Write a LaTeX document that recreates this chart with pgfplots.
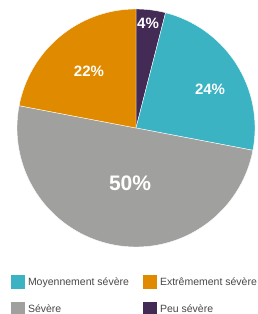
\documentclass[border=0pt]{standalone}
\usepackage{pgfplots}
\pgfplotsset{compat=1.18}
\usepackage{fontspec}
\setmainfont{Liberation Sans}
\definecolor{cteal}{RGB}{59,179,195}
\definecolor{corange}{RGB}{224,138,0}
\definecolor{cgray}{RGB}{160,160,158}
\definecolor{cpurple}{RGB}{67,43,85}
\begin{document}
\begin{tikzpicture}
\begin{axis}[
  name=pie,
  scale only axis, width=238pt, height=238pt,
  xmin=-1, xmax=1, ymin=-1, ymax=1,
  hide axis, clip=false,
  legend columns=2,
  legend cell align=left,
  legend image code/.code={\fill[#1, draw=none] (0pt,-7pt) rectangle (14pt,7pt);},
  legend style={draw=none, fill=none, at={(axis description cs:0,0)}, anchor=north west,
    xshift=-6pt, yshift=-28pt, inner sep=0pt, outer sep=0pt,
    column sep=3pt, row sep=13pt,
    nodes={inner sep=0pt, outer sep=0pt},
    font=\fontsize{10.5}{12}\selectfont, text=black!72},
]
% slices (percentages: 4, 24, 50, 22; clockwise from top, 3.6 degrees per %)
\addplot[fill=cpurple, draw=white, line width=0.4pt, domain=75.6:90, samples=20, variable=\t, forget plot]
  ({cos(\t)},{sin(\t)}) -- (axis cs:0,0) -- cycle;
\addplot[fill=cteal, draw=white, line width=0.4pt, domain=-10.8:75.6, samples=60, variable=\t, forget plot]
  ({cos(\t)},{sin(\t)}) -- (axis cs:0,0) -- cycle;
\addplot[fill=cgray, draw=white, line width=0.4pt, domain=-190.8:-10.8, samples=100, variable=\t, forget plot]
  ({cos(\t)},{sin(\t)}) -- (axis cs:0,0) -- cycle;
\addplot[fill=corange, draw=white, line width=0.4pt, domain=-270:-190.8, samples=50, variable=\t, forget plot]
  ({cos(\t)},{sin(\t)}) -- (axis cs:0,0) -- cycle;
% labels
\addplot[draw=none, mark=none, forget plot, nodes near coords, point meta=explicit symbolic,
  every node near coord/.style={anchor=center, text=white, font=\bfseries\fontsize{15}{18}\selectfont}]
  coordinates {(0.101,0.878)[4\%] (0.622,0.324)[24\%] (-0.395,0.475)[22\%]};
\addplot[draw=none, mark=none, forget plot, nodes near coords, point meta=explicit symbolic,
  every node near coord/.style={anchor=center, text=white, font=\bfseries\fontsize{21}{24}\selectfont}]
  coordinates {(-0.050,-0.465)[50\%]};
\addlegendimage{fill=cteal}
\addlegendentry{\makebox[112pt][l]{Moyennement sévère}}
\addlegendimage{fill=corange}
\addlegendentry{Extrêmement sévère}
\addlegendimage{fill=cgray}
\addlegendentry{\makebox[112pt][l]{Sévère}}
\addlegendimage{fill=cpurple}
\addlegendentry{Peu sévère}
\end{axis}
\pgfresetboundingbox
\path ([xshift=-17pt,yshift=-67pt]pie.south west) rectangle ([xshift=2pt,yshift=9pt]pie.north east);
\end{tikzpicture}
\end{document}
